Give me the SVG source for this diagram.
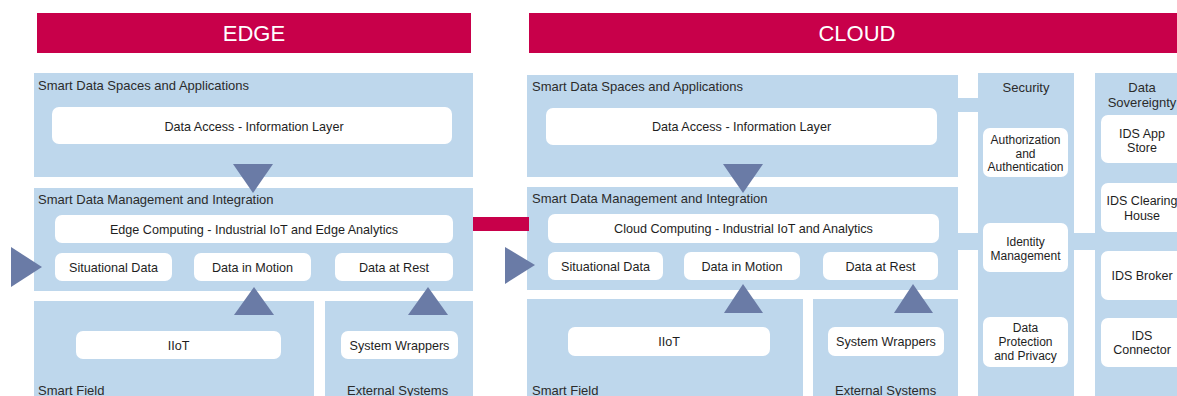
<svg xmlns="http://www.w3.org/2000/svg" width="1177" height="396" viewBox="0 0 1177 396">
<style>
.bg{fill:#ffffff}
.banner{fill:#c8004a}
.btxt{font-family:"Liberation Sans",Arial,sans-serif;font-size:22px;fill:#ffffff;text-anchor:middle}
.panel{fill:#bed7ec}
.box{fill:#ffffff}
.lbl{font-family:"Liberation Sans",Arial,sans-serif;font-size:13px;fill:#2b2b2b}
.lblc{font-family:"Liberation Sans",Arial,sans-serif;font-size:13px;fill:#2b2b2b;text-anchor:middle}
.t{font-family:"Liberation Sans",Arial,sans-serif;font-size:12.6px;fill:#1e1e1e;text-anchor:middle}
.ts{font-family:"Liberation Sans",Arial,sans-serif;font-size:12px;fill:#1e1e1e;text-anchor:middle}
.ti{font-family:"Liberation Sans",Arial,sans-serif;font-size:12.5px;fill:#1e1e1e;text-anchor:middle}
.tri{fill:#6a7ba6}
.bridge{fill:#bed7ec}
.link{fill:#c8004a}
</style>
<rect class="bg" x="0" y="0" width="1177" height="396"/>

<g id="edge-banner">
<rect class="banner" x="37" y="13" width="434" height="40"/>
<text class="btxt" x="254" y="41">EDGE</text>
</g>
<g id="cloud-banner">
<rect class="banner" x="529" y="13" width="648" height="40"/>
<text class="btxt" x="857" y="41">CLOUD</text>
</g>

<!-- EDGE -->
<g id="edge-spaces">
<rect class="panel" x="34" y="73" width="439" height="104"/>
<text class="lbl" x="38" y="90">Smart Data Spaces and Applications</text>
</g>
<g id="edge-data-access">
<rect class="box" x="52" y="107" width="400" height="37" rx="7"/>
<text class="t" x="254" y="130.5">Data Access - Information Layer</text>
</g>
<g id="edge-management">
<rect class="panel" x="34" y="188" width="439" height="103"/>
<text class="lbl" x="38" y="204">Smart Data Management and Integration</text>
</g>
<g id="edge-computing">
<rect class="box" x="55" y="215" width="398" height="28" rx="7"/>
<text class="t" x="254" y="233.5">Edge Computing - Industrial IoT and Edge Analytics</text>
</g>
<g id="edge-situational">
<rect class="box" x="55" y="253" width="117" height="28" rx="7"/>
<text class="t" x="113.5" y="271.5">Situational Data</text>
</g>
<g id="edge-motion">
<rect class="box" x="194" y="253" width="117" height="28" rx="7"/>
<text class="t" x="252.5" y="271.5">Data in Motion</text>
</g>
<g id="edge-rest">
<rect class="box" x="335" y="253" width="118" height="28" rx="7"/>
<text class="t" x="394" y="271.5">Data at Rest</text>
</g>
<g id="edge-field">
<rect class="panel" x="34" y="301" width="280" height="100"/>
<text class="lbl" x="38" y="395">Smart Field</text>
</g>
<g id="edge-iiot">
<rect class="box" x="76" y="331" width="205" height="28" rx="7"/>
<text class="t" x="178.5" y="349.5">IIoT</text>
</g>
<g id="edge-external">
<rect class="panel" x="325" y="301" width="148" height="100"/>
<text class="lbl" x="347" y="395">External Systems</text>
</g>
<g id="edge-wrappers">
<rect class="box" x="341" y="331" width="117" height="28" rx="7"/>
<text class="t" x="399.5" y="349.5">System Wrappers</text>
</g>

<!-- CLOUD -->
<g id="cloud-spaces">
<rect class="panel" x="527" y="75" width="431" height="102"/>
<text class="lbl" x="532" y="91">Smart Data Spaces and Applications</text>
</g>
<g id="cloud-data-access">
<rect class="box" x="546" y="108" width="391" height="37" rx="7"/>
<text class="t" x="741.5" y="131">Data Access - Information Layer</text>
</g>
<g id="cloud-management">
<rect class="panel" x="527" y="187" width="431" height="103"/>
<text class="lbl" x="532" y="203">Smart Data Management and Integration</text>
</g>
<g id="cloud-computing">
<rect class="box" x="548" y="214" width="391" height="29" rx="7"/>
<text class="t" x="743.5" y="233">Cloud Computing - Industrial IoT and Analytics</text>
</g>
<g id="cloud-situational">
<rect class="box" x="548" y="252" width="115" height="28" rx="7"/>
<text class="t" x="605.5" y="270.5">Situational Data</text>
</g>
<g id="cloud-motion">
<rect class="box" x="684" y="252" width="116" height="28" rx="7"/>
<text class="t" x="742" y="270.5">Data in Motion</text>
</g>
<g id="cloud-rest">
<rect class="box" x="823" y="252" width="115" height="28" rx="7"/>
<text class="t" x="880.5" y="270.5">Data at Rest</text>
</g>
<g id="cloud-field">
<rect class="panel" x="527" y="299" width="276" height="100"/>
<text class="lbl" x="532" y="395">Smart Field</text>
</g>
<g id="cloud-iiot">
<rect class="box" x="568" y="327" width="202" height="29" rx="7"/>
<text class="t" x="669" y="346">IIoT</text>
</g>
<g id="cloud-external">
<rect class="panel" x="813" y="299" width="145" height="100"/>
<text class="lbl" x="835" y="395">External Systems</text>
</g>
<g id="cloud-wrappers">
<rect class="box" x="828" y="327" width="116" height="29" rx="7"/>
<text class="t" x="886" y="346">System Wrappers</text>
</g>

<!-- Security -->
<g id="security">
<rect class="panel" x="978" y="73" width="96" height="326"/>
<text class="lblc" x="1026" y="91.5">Security</text>
</g>
<g id="sec-auth">
<rect class="box" x="983" y="128" width="85" height="49" rx="7"/>
<text class="ts" x="1025.5" y="144">Authorization</text>
<text class="ts" x="1025.5" y="157.5">and</text>
<text class="ts" x="1025.5" y="171">Authentication</text>
</g>
<g id="sec-identity">
<rect class="box" x="983" y="223" width="85" height="49" rx="7"/>
<text class="ts" x="1025.5" y="246">Identity</text>
<text class="ts" x="1025.5" y="260">Management</text>
</g>
<g id="sec-protection">
<rect class="box" x="983" y="317" width="85" height="50" rx="7"/>
<text class="ts" x="1025.5" y="332">Data</text>
<text class="ts" x="1025.5" y="346">Protection</text>
<text class="ts" x="1025.5" y="360">and Privacy</text>
</g>

<!-- Data Sovereignty -->
<g id="sovereignty">
<rect class="panel" x="1095" y="73" width="90" height="326"/>
<text class="lblc" x="1142" y="91.5">Data</text>
<text class="lblc" x="1142" y="106.5">Sovereignty</text>
</g>
<g id="ids-appstore">
<rect class="box" x="1101" y="115" width="84" height="48" rx="7"/>
<text class="ti" x="1142" y="137.5">IDS App</text>
<text class="ti" x="1142" y="152">Store</text>
</g>
<g id="ids-clearing">
<rect class="box" x="1101" y="183" width="84" height="49" rx="7"/>
<text class="ti" x="1142" y="205">IDS Clearing</text>
<text class="ti" x="1142" y="219.5">House</text>
</g>
<g id="ids-broker">
<rect class="box" x="1101" y="251" width="84" height="49" rx="7"/>
<text class="ti" x="1142" y="279.5">IDS Broker</text>
</g>
<g id="ids-connector">
<rect class="box" x="1101" y="318" width="84" height="49" rx="7"/>
<text class="ti" x="1142" y="339.5">IDS</text>
<text class="ti" x="1142" y="354">Connector</text>
</g>

<g id="connectors">
<rect class="link" x="473" y="217" width="56" height="14"/>
<rect class="bridge" x="957" y="98" width="22" height="14"/>
<rect class="bridge" x="957" y="233" width="22" height="17"/>
<rect class="bridge" x="1073" y="233" width="23" height="17"/>
<polygon class="tri" points="233,164 273,164 253,193"/>
<polygon class="tri" points="11,247 11,287 42,267"/>
<polygon class="tri" points="254,287 234,315 274,315"/>
<polygon class="tri" points="428,287 408,315 448,315"/>
<polygon class="tri" points="723,164 763,164 743,193"/>
<polygon class="tri" points="505,247 505,284 535,265"/>
<polygon class="tri" points="743,284 724,313 763,313"/>
<polygon class="tri" points="913,284 894,313 933,313"/>
</g>
</svg>
